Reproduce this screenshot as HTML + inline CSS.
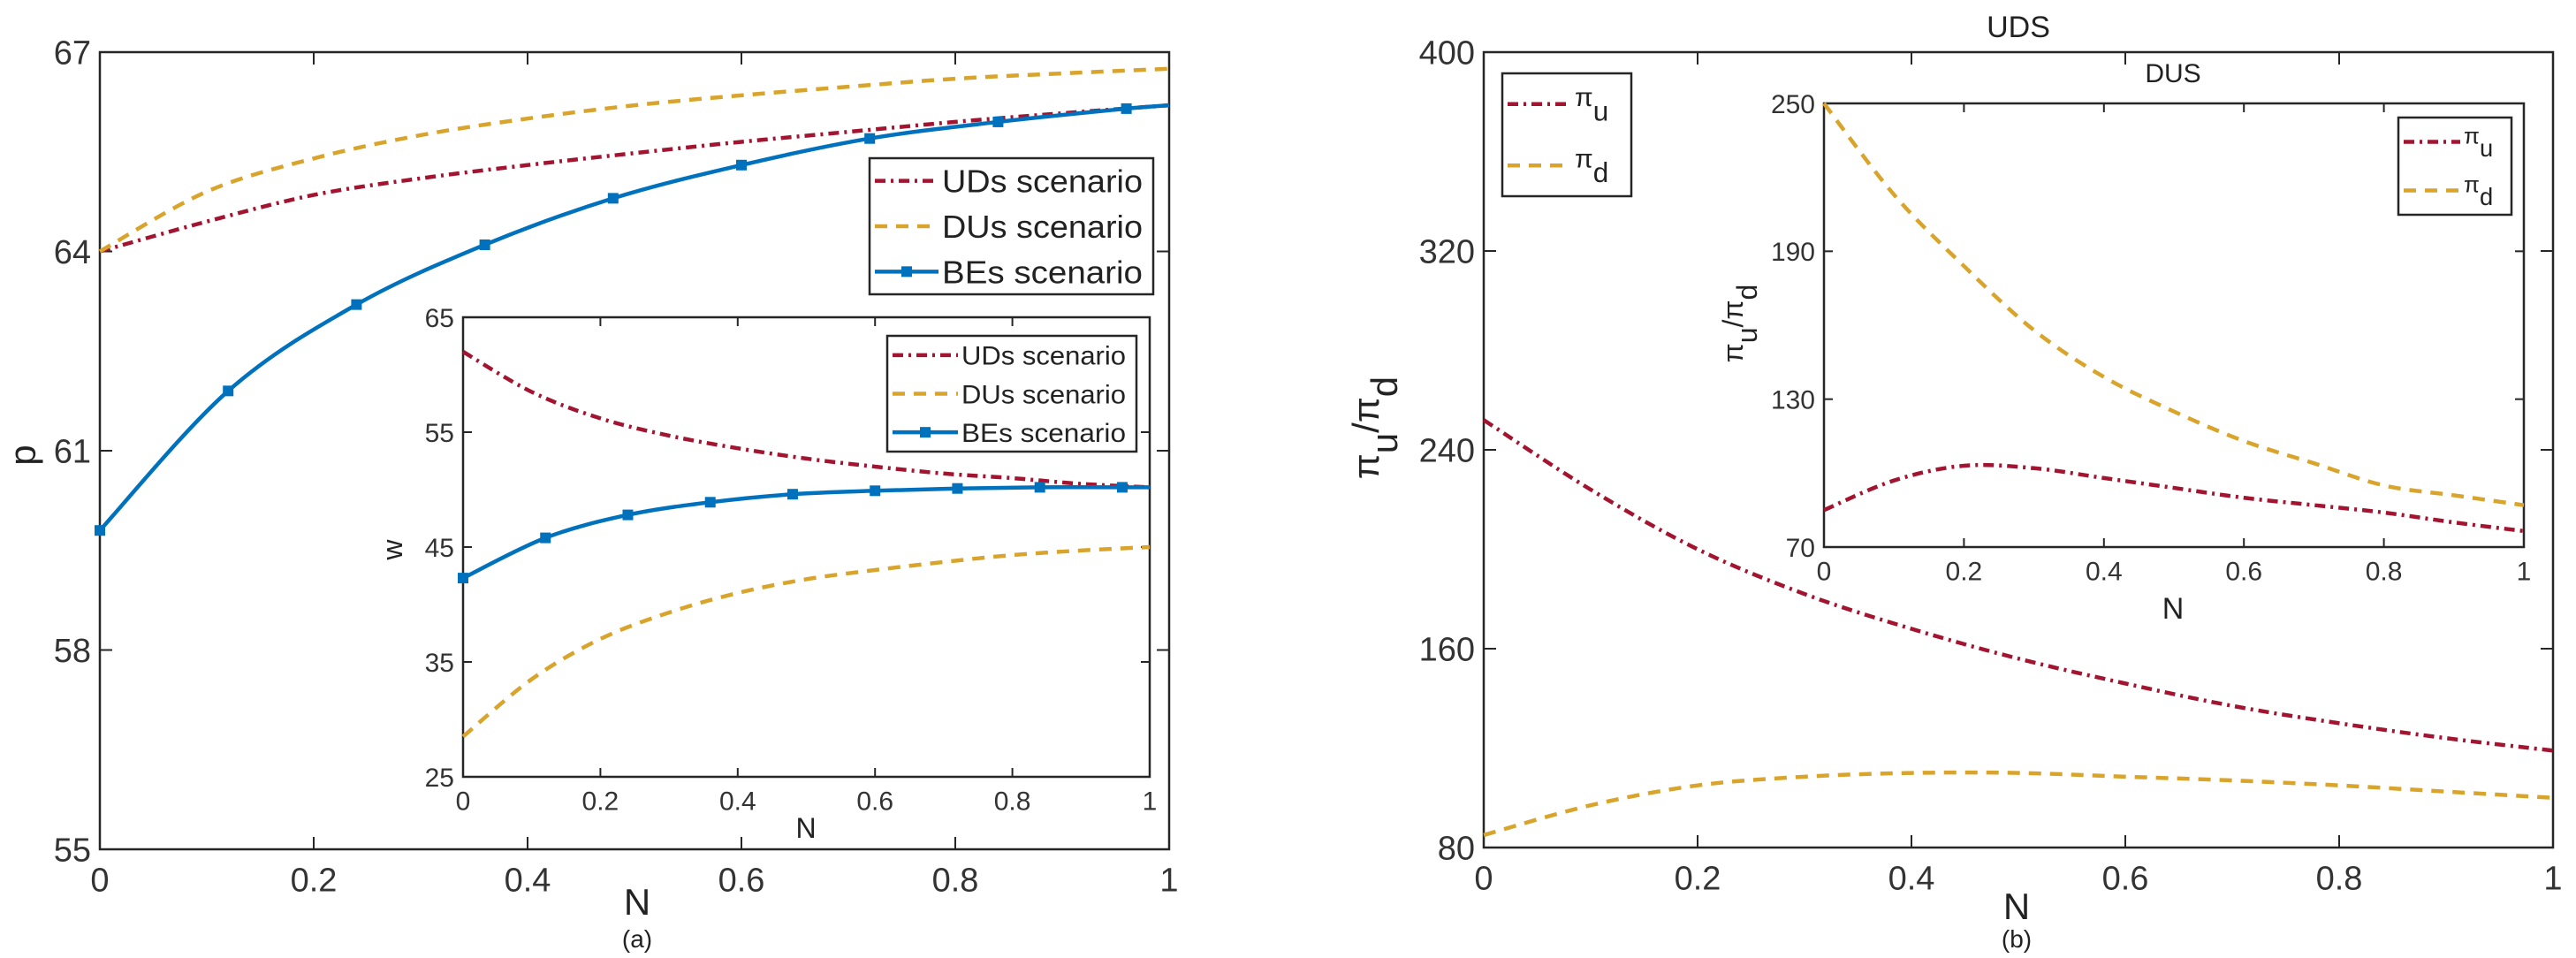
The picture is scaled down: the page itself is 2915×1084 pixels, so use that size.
<!DOCTYPE html>
<html><head><meta charset="utf-8"><style>
html,body{margin:0;padding:0;background:#fff;}
svg{display:block;font-family:"Liberation Sans",Arial,sans-serif;}
</style></head><body>
<svg id="fig" width="2915" height="1084" viewBox="0 0 2915 1084"></svg>
<script>
// ---- data ----
const mainN = [0,0.1,0.2,0.3,0.4,0.5,0.6,0.7,0.8,0.9,1];
const pUD = [64,64.45,64.85,65.1,65.3,65.48,65.65,65.8,65.95,66.08,66.2];
const pDU = [64,64.9,65.4,65.75,66.0,66.2,66.35,66.48,66.6,66.68,66.75];
const beN = [0,0.12,0.24,0.36,0.48,0.6,0.72,0.84,0.96,1];
const pBE = [59.8,61.9,63.2,64.1,64.8,65.3,65.7,65.95,66.15,66.2];
const wUD = [62,58.5,56.2,54.7,53.6,52.7,52,51.4,51,50.5,50.2];
const wDU = [28.5,33.5,37,39.3,41,42.2,43,43.7,44.3,44.7,45];
const wBE = [42.3,45.8,47.8,48.9,49.6,49.9,50.1,50.2,50.2,50.2];
const uU = [252,224,200,182,168,156,146,137,130,124,119];
const uD = [85,97,105,108.5,110,110,108.5,107,105,102.5,100];
const dD = [250,213,184,158,139,125,113,104,95,91,87];
const dU = [85,97,103,102,98,94,90,87,84,80,76.5];
const xTicks = [0,0.2,0.4,0.6,0.8,1];
const xTickLabels = ["0","0.2","0.4","0.6","0.8","1"];
const pTicks = [55,58,61,64,67];
const wTicks = [25,35,45,55,65];
const uTicks = [80,160,240,320,400];
const dTicks = [70,130,190,250];

const NS = "http://www.w3.org/2000/svg";
const svg = document.getElementById('fig');
function el(tag, attrs, parent){
  const e = document.createElementNS(NS, tag);
  for (const k in attrs) e.setAttribute(k, attrs[k]);
  (parent||svg).appendChild(e); return e;
}
const RED="#A2142F", YEL="#D9A42B", BLU="#0072BD", AX="#262626";

function axes(name, x0,x1,y0,y1, ymin,ymax, yt, fs, tl){
  const g = el('g',{});
  
  
  const sx = v => x0 + (x1-x0)*v;
  const sy = v => y1 - (y1-y0)*(v-ymin)/(ymax-ymin);
  const bg = el('rect',{x:x0,y:y0,width:x1-x0,height:y1-y0,fill:'#fff'},g);
  
  
  xTicks.forEach((t,i)=>{
    const x = sx(t);
    el('line',{x1:x,x2:x,y1:y1,y2:y1-tl,stroke:AX,'stroke-width':2},g);
    el('line',{x1:x,x2:x,y1:y0,y2:y0+tl,stroke:AX,'stroke-width':2},g);
    const tx = el('text',{x:x,y:y1+fs*1.25,'font-size':fs,'text-anchor':'middle',fill:'#333'},g);
    tx.textContent = xTickLabels[i];
    
    
  });
  yt.forEach(t=>{
    const y = sy(t);
    el('line',{x1:x0,x2:x0+tl,y1:y,y2:y,stroke:AX,'stroke-width':2},g);
    el('line',{x1:x1,x2:x1-tl,y1:y,y2:y,stroke:AX,'stroke-width':2},g);
    const tx = el('text',{x:x0-10,y:y+fs*0.36,'font-size':fs,'text-anchor':'end',fill:'#333'},g);
    tx.textContent = t;
    
    
  });
  const fr = el('rect',{x:x0,y:y0,width:x1-x0,height:y1-y0,fill:'none',stroke:AX,'stroke-width':2.5},g);
  
  
  return {sx,sy,g};
}
function curvePath(xs, ys, sx, sy){
  const P = xs.map((x,i)=>[sx(x),sy(ys[i])]);
  let d = `M${P[0][0]},${P[0][1]}`;
  for(let i=0;i<P.length-1;i++){
    const p0=P[Math.max(0,i-1)],p1=P[i],p2=P[i+1],p3=P[Math.min(P.length-1,i+2)];
    const c1=[p1[0]+(p2[0]-p0[0])/6,p1[1]+(p2[1]-p0[1])/6];
    const c2=[p2[0]-(p3[0]-p1[0])/6,p2[1]-(p3[1]-p1[1])/6];
    d+=` C${c1[0]},${c1[1]} ${c2[0]},${c2[1]} ${p2[0]},${p2[1]}`;
  }
  return d;
}
function series(ax, name, xs, ys, color, dash, markers){
  const p = el('path',{d:curvePath(xs,ys,ax.sx,ax.sy),fill:'none',stroke:color,'stroke-width':4.5,'stroke-dasharray':dash},ax.g);
  
  
  if(markers){
    xs.forEach((x,i)=>{
      if(i===xs.length-1) return;
      const m = el('rect',{x:ax.sx(x)-6,y:ax.sy(ys[i])-6,width:12,height:12,fill:color},ax.g);
      
      
    });
  }
}
function text(x,y,s,fs,name,anchor,extra){
  const t = el('text',Object.assign({x:x,y:y,'font-size':fs,'text-anchor':anchor||'middle',fill:'#222'},extra||{}));
  t.textContent = s;
  
  
  return t;
}
function legend(name,x,y,w,h,items,fs,lineLen,pi){
  const g = el('g',{});
  
  
  el('rect',{x:x,y:y,width:w,height:h,fill:'#fff',stroke:AX,'stroke-width':2.5},g);
  const step = h/items.length;
  items.forEach((it,i)=>{
    const cy = y+step*(i+0.5);
    el('line',{x1:x+6,x2:x+6+lineLen,y1:cy,y2:cy,stroke:it[1],'stroke-width':4.5,'stroke-dasharray':it[2]},g);
    if(it[3]) el('rect',{x:x+6+lineLen/2-6,y:cy-6,width:12,height:12,fill:it[1]},g);
    let t;
    if(pi){
      t = el('text',{x:x+10+lineLen,y:cy+2,'font-size':fs,fill:'#222'},g);
      const a = el('tspan',{},t); a.textContent='π';
      const b = el('tspan',{dy:fs*0.55,'font-size':fs*1.05},t); b.textContent=it[0];
    } else {
      t = el('text',{x:x+lineLen+10,y:cy+fs*0.36,'font-size':fs,fill:'#222',textLength:w-lineLen-22,lengthAdjust:'spacingAndGlyphs'},g);
      t.textContent = it[0];
    }
    
    
  });
}
const DD = "12 6 3 6", DA = "14 10";

// ---- panel a ----
const A = axes('main-axes-a',113,1323,59,961,55,67,pTicks,38,14);
series(A,'p-uds-line',mainN,pUD,RED,DD,false);
series(A,'p-dus-line',mainN,pDU,YEL,DA,false);
series(A,'p-bes-line',beN,pBE,BLU,'',true);
legend('legend-a',984,179,321,154,[['UDs scenario',RED,DD],['DUs scenario',YEL,DA],['BEs scenario',BLU,'',1]],36,72,false);
const AI = axes('inset-axes-a',524,1301,359,879,25,65,wTicks,30,10);
series(AI,'w-uds-line',mainN,wUD,RED,DD,false);
series(AI,'w-dus-line',mainN,wDU,YEL,DA,false);
series(AI,'w-bes-line',beN,wBE,BLU,'',true);
legend('legend-a-inset',1004,380,282,131,[['UDs scenario',RED,DD],['DUs scenario',YEL,DA],['BEs scenario',BLU,'',1]],30,74,false);
text(912,948,'N',32,'inset-x-axis-title');
text(455,622,'w',32,'inset-y-axis-title','middle',{transform:'rotate(-90 455 622)'});
text(721,1035,'N',42,'x-axis-title-a');
text(721,1072,'(a)',28,'caption-a');
text(40,515,'p',42,'y-axis-title-a','middle',{transform:'rotate(-90 40 515)'});

// ---- panel b ----
const B = axes('main-axes-b',1679,2889,59,959,80,400,uTicks,38,14);
series(B,'pi-u-uds-line',mainN,uU,RED,DD,false);
series(B,'pi-d-uds-line',mainN,uD,YEL,DA,false);
legend('legend-b',1700,83,146,139,[['u',RED,DD],['d',YEL,DA]],30,72,true);
text(2284,42,'UDS',34,'title-uds');
const BI = axes('inset-axes-b',2064,2856,117,619,70,250,dTicks,30,10);
series(BI,'pi-u-dus-line',mainN,dU,RED,DD,false);
series(BI,'pi-d-dus-line',mainN,dD,YEL,DA,false);
legend('legend-b-inset',2714,133,128,110,[['u',RED,DD],['d',YEL,DA]],26,64,true);
text(2459,93,'DUS',30,'title-dus');
text(2459,700,'N',34,'inset-x-axis-title-b');
text(2282,1040,'N',42,'x-axis-title-b');
text(2282,1072,'(b)',28,'caption-b');
function piTitle(x,y,fs,name){
  const t = el('text',{x:x,y:y,'font-size':fs,'text-anchor':'middle',fill:'#222',transform:`rotate(-90 ${x} ${y})`});
  
  
  const parts=[['π',0],['u',fs*0.5],['/π',-fs*0.5],['d',fs*0.5]];
  parts.forEach(p=>{const s=el('tspan',{dy:p[1]},t); s.textContent=p[0];});
}
piTitle(1560,484,42,'y-axis-title-b');
piTitle(1972,366,32,'inset-y-axis-title-b');
</script>
</body></html>
